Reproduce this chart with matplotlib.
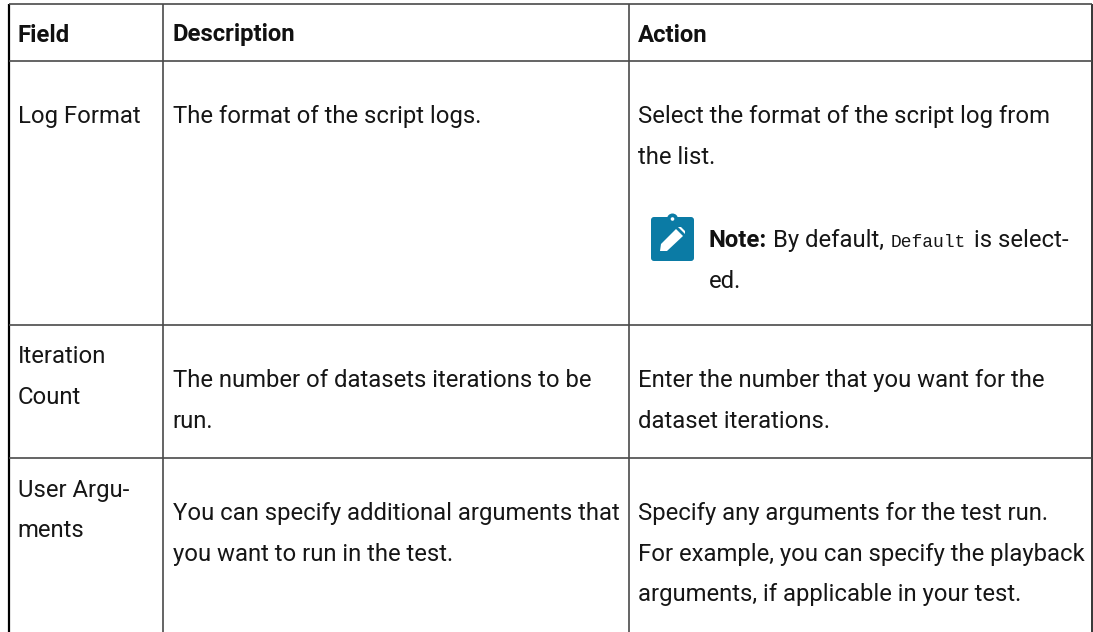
import matplotlib
matplotlib.use('Agg')
import matplotlib.pyplot as plt
from matplotlib.patches import FancyBboxPatch, Circle, Polygon

W = 1093
H = 632

# lineas de la tabla
col_lines = [9, 163, 629, 1092]
col_widths = [1.6, 1.1, 1.1, 1.1]
col_colors = ['#000000', '#3a3a3a', '#3a3a3a', '#000000']
row_lines = [4, 61, 325, 458]

header = ['Field', 'Description', 'Action']
header_x = [17.6, 172.6, 637.6]

# (x, baseline y, texto)
field_lines = [(17.6, 123, 'Log Format'), (17.6, 363, 'Iteration'), (17.6, 404, 'Count'),
               (17.6, 497, 'User Argu-'), (17.6, 537, 'ments')]
desc_lines = [(172.6, 123, 'The format of the script logs.'),
              (172.6, 387, 'The number of datasets iterations to be'),
              (172.6, 428, 'run.'),
              (172.6, 520, 'You can specify additional arguments that'),
              (172.6, 561, 'you want to run in the test.')]
action_lines = [(637.6, 123, 'Select the format of the script log from'),
                (637.6, 164, 'the list.'),
                (637.6, 387, 'Enter the number that you want for the'),
                (637.6, 428, 'dataset iterations.'),
                (637.6, 520, 'Specify any arguments for the test run.'),
                (637.6, 561, 'For example, you can specify the playback'),
                (637.6, 601, 'arguments, if applicable in your test.')]

fig = plt.figure(figsize=(W / 100, H / 100), dpi=100)
ax = fig.add_axes([0, 0, 1, 1])
ax.set_xlim(0, W)
ax.set_ylim(H, 0)
ax.axis('off')

for x, lw, c in zip(col_lines, col_widths, col_colors):
	ax.plot([x, x], [row_lines[0], H], color=c, lw=lw, solid_capstyle='butt')
for y in row_lines:
	ax.plot([col_lines[0], col_lines[-1]], [y, y], color='#4a4a4a', lw=1.2, solid_capstyle='butt')

fs = 17.22
for x, t in zip(header_x, header):
	ax.text(x, 41.5, t, family='Roboto', weight='bold', fontsize=fs, va='baseline', color='#111111')
for x, y, t in field_lines + desc_lines + action_lines:
	ax.text(x, y, t, family='Roboto', fontsize=fs, va='baseline', color='#161616')

# nota con icono
ax.add_patch(FancyBboxPatch((651, 217), 43, 44, boxstyle='round,pad=0,rounding_size=3', fc='#0b7ba5', ec='none'))
ax.add_patch(Circle((672.5, 219), 5.5, fc='#0b7ba5', ec='none'))
ax.add_patch(Circle((672.5, 219), 1.8, fc='white', ec='none'))
ax.add_patch(Polygon([(660, 251), (661, 244), (676, 229), (683, 236), (667, 251)], fc='white', ec='none'))
ax.add_patch(Polygon([(678, 227), (681, 227), (685, 231), (685, 234)], fc='white', ec='none'))

ax.text(709, 247, 'Note:', family='Roboto', weight='bold', fontsize=fs, color='#111111')
ax.text(773, 247, 'By default,', family='Roboto', fontsize=fs, color='#161616')
ax.text(890.5, 247, 'Default', family='Liberation Mono', fontsize=13, color='#161616')
ax.text(974.5, 247, 'is select-', family='Roboto', fontsize=fs, color='#161616')
ax.text(708.5, 288, 'ed.', family='Roboto', fontsize=fs, color='#161616')

fig.savefig('out.png', dpi=100, facecolor='white')
